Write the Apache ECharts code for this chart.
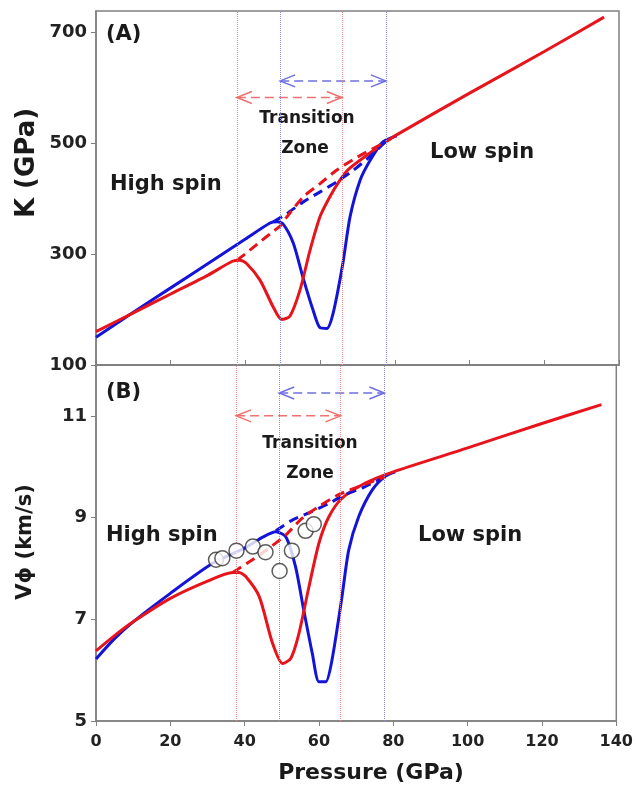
<!DOCTYPE html>
<html>
<head>
<meta charset="utf-8">
<script src="https://cdn.jsdelivr.net/npm/echarts@6/dist/echarts.min.js"></script>
<style>
  html, body { margin: 0; padding: 0; background: #fff; }
  #chart { width: 636px; height: 785px; }
</style>
</head>
<body>
<div id="chart"></div>
<script>
// x ticks (pressure, GPa)
const pressureTicks = [0, 20, 40, 60, 80, 100, 120, 140]
const kTicks = [100, 300, 500, 700]
const vTicks = [5, 7, 9, 11]

// panel A: bulk modulus K (GPa) vs P
const kBlue = [[0, 150], [10, 195], [20, 239], [30, 283], [40, 327], [46.6, 356], [48.5, 358], [50.1, 354],
  [52.8, 320], [55.4, 258], [58.1, 199], [60.0, 167], [61.8, 166], [63.5, 194], [66.1, 284], [68.0, 367],
  [70.7, 433], [73.4, 469], [76.8, 502], [80.5, 513]]
const kRed = [[0, 160], [10, 194], [20, 228], [30, 262], [36.5, 287], [38.5, 289], [40.3, 283], [43.9, 253],
  [47.4, 205], [49.7, 182], [51.9, 188], [54.6, 235], [57.3, 307], [60, 368], [62.5, 402], [65, 430],
  [67.5, 452], [72.5, 478], [77.8, 503], [80, 513], [100, 590], [120, 665], [136, 727]]
const kBlueDash = [[47.5, 358], [51.1, 373], [55.5, 394], [60, 412], [64.4, 430], [68.9, 451], [74.2, 481], [77.8, 505]]
const kRedDash = [[37.7, 289], [40.3, 302], [43.9, 322], [47.5, 341], [49.5, 352], [51.1, 367], [55.5, 403],
  [60, 427], [64.4, 451], [70, 475], [77.8, 503]]

// panel B: bulk sound velocity (km/s) vs P
const vBlue = [[0, 6.22], [5, 6.62], [10, 6.95], [20, 7.51], [31.4, 8.10], [40, 8.40], [45, 8.62], [48.4, 8.72],
  [51.1, 8.62], [53.7, 8.03], [55.9, 7.18], [58.2, 6.33], [60, 5.77], [61.8, 5.77], [63.5, 6.20], [66.2, 7.45],
  [68, 8.36], [70.7, 9.02], [74.3, 9.54], [77.8, 9.81], [80.5, 9.90]]
const vRed = [[0, 6.38], [5, 6.68], [10, 6.95], [20, 7.41], [30, 7.75], [36.8, 7.92], [38.5, 7.92], [40.3, 7.84],
  [43.9, 7.45], [47.5, 6.53], [50.2, 6.13], [52.4, 6.23], [54.6, 6.72], [57.3, 7.64], [60, 8.50], [62.7, 9.02],
  [66.2, 9.38], [72.5, 9.68], [80, 9.90], [100, 10.37], [120, 10.85], [136, 11.22]]
const vBlueDash = [[48.4, 8.74], [52.8, 8.95], [58.2, 9.12], [62.7, 9.28], [67.1, 9.45], [71.6, 9.58], [77.8, 9.80]]
const vRedDash = [[36.8, 7.92], [42.1, 8.17], [46.6, 8.40], [51.1, 8.66], [55.5, 8.99], [60, 9.22], [65.3, 9.45],
  [70.7, 9.61], [77.8, 9.80]]
const vObserved = [[32.3, 8.17], [34.0, 8.20], [37.8, 8.35], [42.2, 8.43], [45.6, 8.32], [49.4, 7.95],
  [52.7, 8.35], [56.4, 8.74], [58.6, 8.87]]

// transition zone bounds
const redZone = [37.7, 65.8]
const blueZone = [49.3, 77.6]
const kArrowLevel = { blue: 612, red: 582 }
const vArrowLevel = { blue: 11.45, red: 11.0 }

const red = '#e8141c'
const blue = '#1414d8'
const font = 'DejaVu Sans'

const chart = echarts.init(document.getElementById('chart'))

function renderArrow(params, api) {
  const y = api.value(2)
  const a = api.coord([api.value(0), y])
  const b = api.coord([api.value(1), y])
  const color = api.visual('color')
  const style = { stroke: color, lineWidth: 1.5, fill: null }
  return {
    type: 'group',
    children: [
      { type: 'line', shape: { x1: a[0], y1: a[1], x2: b[0], y2: b[1] }, style: { stroke: color, lineWidth: 1.5, lineDash: [9, 5] } },
      { type: 'polyline', shape: { points: [[a[0] + 15, a[1] - 6], [a[0], a[1]], [a[0] + 15, a[1] + 6]] }, style },
      { type: 'polyline', shape: { points: [[b[0] - 15, b[1] - 6], [b[0], b[1]], [b[0] - 15, b[1] + 6]] }, style }
    ]
  }
}

function zoneLines(bounds, color) {
  return {
    silent: true,
    symbol: 'none',
    label: { show: false },
    lineStyle: { type: 'dotted', width: 1, color: color },
    data: bounds.map(v => ({ xAxis: v }))
  }
}

function lineSeries(data, color, idx, dashed, zone) {
  const s = {
    type: 'line',
    data: data,
    xAxisIndex: idx,
    yAxisIndex: idx,
    showSymbol: false,
    smooth: 0.25,
    lineStyle: { color: color, width: 3, type: dashed ? [10, 6] : 'solid' },
    z: dashed ? 4 : 3
  }
  if (zone) s.markLine = zone
  return s
}

function arrowSeries(idx, levels) {
  return [
    { type: 'custom', xAxisIndex: idx, yAxisIndex: idx, renderItem: renderArrow, encode: { x: [0, 1], y: 2 },
      itemStyle: { color: '#6f6fe0' }, data: [[blueZone[0], blueZone[1], levels.blue]], silent: true },
    { type: 'custom', xAxisIndex: idx, yAxisIndex: idx, renderItem: renderArrow, encode: { x: [0, 1], y: 2 },
      itemStyle: { color: '#ef7070' }, data: [[redZone[0], redZone[1], levels.red]], silent: true }
  ]
}

const axisLine = { lineStyle: { color: '#808080', width: 1.5 } }
const tickLabel = { fontFamily: font, fontWeight: 'bold', color: '#222' }

function text(str, x, y, size, extra) {
  return Object.assign({
    type: 'text', x: x, y: y,
    style: { text: str, font: 'bold ' + size + 'px "' + font + '"', fill: '#1a1a1a', align: 'left', verticalAlign: 'middle' }
  }, extra || {})
}

const option = {
  animation: false,
  grid: [
    { left: 96, right: 17, top: 11, height: 354, show: true, borderColor: '#808080', borderWidth: 1.5 },
    { left: 96, right: 17, top: 365, height: 356, show: true, borderColor: '#808080', borderWidth: 1.5 }
  ],
  xAxis: [
    { type: 'value', gridIndex: 0, min: 0, max: 140, axisLine: axisLine, splitLine: { show: false },
      axisTick: { inside: true, length: 5, lineStyle: { color: '#808080' }, customValues: pressureTicks },
      axisLabel: { show: false } },
    { type: 'value', gridIndex: 1, min: 0, max: 140, axisLine: axisLine, splitLine: { show: false },
      axisTick: { length: 5, lineStyle: { color: '#808080' }, customValues: pressureTicks },
      axisLabel: Object.assign({ fontSize: 16, margin: 13, customValues: pressureTicks }, tickLabel) }
  ],
  yAxis: [
    { type: 'value', gridIndex: 0, min: 100, max: 738, axisLine: axisLine, splitLine: { show: false },
      axisTick: { show: true, length: 5, lineStyle: { color: '#808080' }, customValues: kTicks },
      axisLabel: Object.assign({ fontSize: 18, margin: 9, customValues: kTicks }, tickLabel) },
    { type: 'value', gridIndex: 1, min: 5, max: 12, axisLine: axisLine, splitLine: { show: false },
      axisTick: { show: true, length: 5, lineStyle: { color: '#808080' }, customValues: vTicks },
      axisLabel: Object.assign({ fontSize: 18, margin: 9, customValues: vTicks }, tickLabel) }
  ],
  series: [
    lineSeries(kBlue, blue, 0, false, zoneLines(blueZone, '#8a8ae8')),
    lineSeries(kRed, red, 0, false, zoneLines(redZone, '#f08a8a')),
    lineSeries(kBlueDash, blue, 0, true),
    lineSeries(kRedDash, red, 0, true),
    ...arrowSeries(0, kArrowLevel),
    lineSeries(vBlue, blue, 1, false, zoneLines(blueZone, '#8a8ae8')),
    lineSeries(vRed, red, 1, false, zoneLines(redZone, '#f08a8a')),
    lineSeries(vBlueDash, blue, 1, true),
    lineSeries(vRedDash, red, 1, true),
    ...arrowSeries(1, vArrowLevel),
    {
      type: 'scatter', xAxisIndex: 1, yAxisIndex: 1, data: vObserved, symbol: 'circle', symbolSize: 15, z: 6,
      itemStyle: { color: '#ffffff', borderColor: '#333333', borderWidth: 1.5 }
    }
  ],
  graphic: [
    text('(A)', 106, 35, 21),
    text('High spin', 110, 185, 21),
    text('Transition', 307, 119, 17, { style: { text: 'Transition', font: 'bold 17px "' + font + '"', fill: '#1a1a1a', align: 'center', verticalAlign: 'middle' } }),
    text('Zone', 305, 149, 17, { style: { text: 'Zone', font: 'bold 17px "' + font + '"', fill: '#1a1a1a', align: 'center', verticalAlign: 'middle' } }),
    text('Low spin', 430, 153, 21),
    text('(B)', 106, 393, 21),
    text('High spin', 106, 536, 21),
    text('Transition', 310, 444, 17, { style: { text: 'Transition', font: 'bold 17px "' + font + '"', fill: '#1a1a1a', align: 'center', verticalAlign: 'middle' } }),
    text('Zone', 310, 474, 17, { style: { text: 'Zone', font: 'bold 17px "' + font + '"', fill: '#1a1a1a', align: 'center', verticalAlign: 'middle' } }),
    text('Low spin', 418, 536, 21),
    text('K (GPa)', 27, 163, 26, { rotation: Math.PI / 2, style: { text: 'K (GPa)', font: 'bold 26px "' + font + '"', fill: '#1a1a1a', align: 'center', verticalAlign: 'middle' } }),
    text('Vϕ (km/s)', 26, 542, 21, { rotation: Math.PI / 2, style: { text: 'Vϕ (km/s)', font: 'bold 21px "' + font + '"', fill: '#1a1a1a', align: 'center', verticalAlign: 'middle' } }),
    text('Pressure (GPa)', 371, 773, 22, { style: { text: 'Pressure (GPa)', font: 'bold 22px "' + font + '"', fill: '#1a1a1a', align: 'center', verticalAlign: 'middle' } })
  ]
}

chart.setOption(option)
</script>
</body>
</html>
